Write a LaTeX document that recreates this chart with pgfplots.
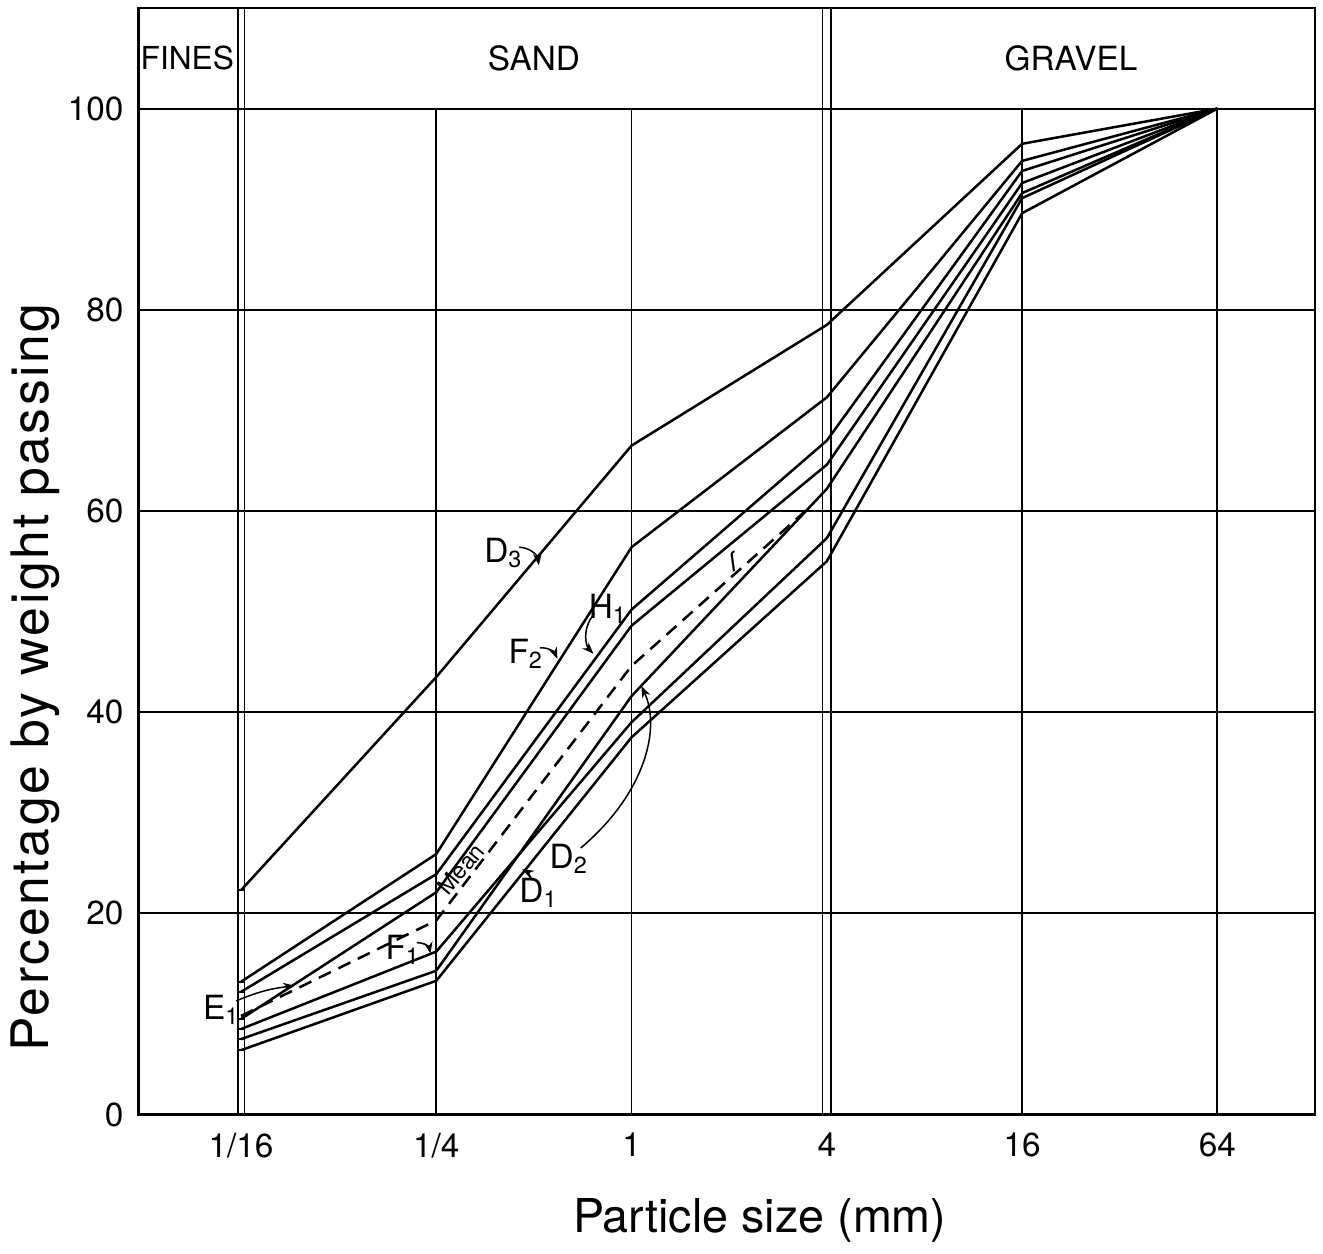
\documentclass[border=0pt]{standalone}
\usepackage{fontspec}
\setmainfont{TeX Gyre Heros}
\usepackage{pgfplots}
\pgfplotsset{compat=1.18}
\usetikzlibrary{arrows.meta}
\begin{document}
\begin{tikzpicture}
\begin{axis}[
  scale only axis, width=353pt, height=332pt,
  xmin=-5.05, xmax=7, ymin=0, ymax=110,
  xtick={-4,-2,0,2,4,6}, xticklabels={1/16,1/4,1,4,16,64},
  ytick={0,20,40,60,80,100},
  major tick length=0pt,
  ymajorgrids, grid style={black, line width=0.55pt},
  axis line style={line width=0.7pt},
  ticklabel style={font=\fontsize{10}{12}\selectfont},
  /pgf/number format/assume math mode=true,
  xticklabel style={yshift=-2pt},
  yticklabel style={xshift=-1pt},
  xlabel={Particle size (mm)},
  ylabel={\addfontfeatures{LetterSpace=5}Percentage by weight passing},
  every axis x label/.style={at={(axis description cs:0.528,-0.0957)}, anchor=center, font=\fontsize{14}{16}\selectfont},
  every axis y label/.style={at={(axis description cs:-0.0875,0.395)}, rotate=90, anchor=center, font=\fontsize{15.5}{18}\selectfont},
  clip=false,
  every axis plot/.append style={black, line width=0.75pt, line join=round},
]
% vertical grid lines (0..100)
\foreach \xx in {-2,0,4,6} {
  \edef\temp{\noexpand\draw[line width=0.55pt] (axis cs:\xx,0) -- (axis cs:\xx,100);}
  \temp
}
% double lines at 1/16 and 4
\draw[line width=0.55pt] (axis cs:-4.035,0) -- (axis cs:-4.035,110);
\draw[line width=0.55pt] (axis cs:-3.965,0) -- (axis cs:-3.965,110);
\draw[line width=0.55pt] (axis cs:1.955,0) -- (axis cs:1.955,110);
\draw[line width=0.55pt] (axis cs:2.045,0) -- (axis cs:2.045,110);
% header texts
\node[font=\fontsize{9.5}{11}\selectfont] at (axis cs:-4.55,105) {FINES};
\node[font=\fontsize{10}{12}\selectfont] at (axis cs:-1.0,105) {SAND};
\node[font=\fontsize{10}{12}\selectfont] at (axis cs:4.5,105) {GRAVEL};

% D3
\addplot[mark=-, mark size=1.2pt, mark indices={1}] coordinates {(-4,22.3) (-2,43.5) (0,66.5) (2,78.5) (4,96.5) (6,100)};
% F2
\addplot[mark=-, mark size=1.2pt, mark indices={1}] coordinates {(-4,13.2) (-2,25.9) (0,56.4) (2,71.3) (4,94.8) (6,100)};
% H1
\addplot[mark=-, mark size=1.2pt, mark indices={1}] coordinates {(-4,12.2) (-2,23.9) (0,50.2) (2,67.0) (4,93.8) (6,100)};
% E1
\addplot[mark=-, mark size=1.2pt, mark indices={1}] coordinates {(-4,9.5) (-2,22.1) (0,48.6) (2,64.6) (4,92.6) (6,100)};
% D2
\addplot[mark=-, mark size=1.2pt, mark indices={1}] coordinates {(-4,7.5) (-2,14.3) (0,41.6) (2,62.2) (4,91.6) (6,100)};
% F1
\addplot[mark=-, mark size=1.2pt, mark indices={1}] coordinates {(-4,8.5) (-2,16.2) (0,39.0) (2,57.3) (4,91.1) (6,100)};
% D1
\addplot[mark=-, mark size=1.2pt, mark indices={1}] coordinates {(-4,6.4) (-2,13.3) (0,37.5) (2,55.0) (4,89.6) (6,100)};
% Mean
\addplot[dash pattern=on 4pt off 2.5pt] coordinates {(-4,9.8) (-2,19.3) (0,44.6) (1.77,59.9)};

% curve labels
\tikzset{lab/.style={font=\fontsize{10}{11}\selectfont}, arr/.style={line width=0.45pt, -{Stealth[length=3.5pt,width=2.6pt]}}}
\node[lab] at (axis cs:-1.31,55.8) {D\textsubscript{3}};
\draw[arr] (axis cs:-1.15,56.4) to[bend left=40] (axis cs:-0.95,54.6);
\node[lab] at (axis cs:-1.08,45.8) {F\textsubscript{2}};
\draw[arr] (axis cs:-0.94,46.4) to[bend left=35] (axis cs:-0.76,45.3);
\node[lab] at (axis cs:-0.24,50.3) {H\textsubscript{1}};
\draw[arr] (axis cs:-0.38,49.8) .. controls (axis cs:-0.52,48.2) and (axis cs:-0.46,46.5) .. (axis cs:-0.39,45.8);
\node[lab] at (axis cs:-4.2,10.4) {E\textsubscript{1}};
\draw[arr] (axis cs:-4.05,11.3) to[bend left=8] (axis cs:-3.45,12.8);
\node[lab] at (axis cs:-2.34,16.4) {F\textsubscript{1}};
\draw[arr] (axis cs:-2.2,17.1) to[bend left=40] (axis cs:-2.06,16.0);
\node[lab] at (axis cs:-0.64,25.4) {D\textsubscript{2}};
\draw[arr] (axis cs:-0.52,26.5) .. controls (axis cs:0.15,32) and (axis cs:0.3,38.5) .. (axis cs:0.1,42.6);
\node[lab] at (axis cs:-0.95,22.0) {D\textsubscript{1}};
\draw[arr] (axis cs:-1.02,23.3) to[bend right=20] (axis cs:-1.12,24.4);
\node[font=\fontsize{7}{8}\selectfont, rotate=50, inner sep=0pt] at (axis cs:-1.75,24.4) {Mean};
\node[font=\fontsize{8}{9}\selectfont, rotate=20] at (axis cs:1.05,55.0) {\textit{ſ}};

\coordinate (SW) at (rel axis cs:0,0);
\coordinate (NE) at (rel axis cs:1,1);
\end{axis}
\path ([shift={(-41.4pt,-38.4pt)}]SW) rectangle ([shift={(2.4pt,2.4pt)}]NE);
\end{tikzpicture}
\end{document}
